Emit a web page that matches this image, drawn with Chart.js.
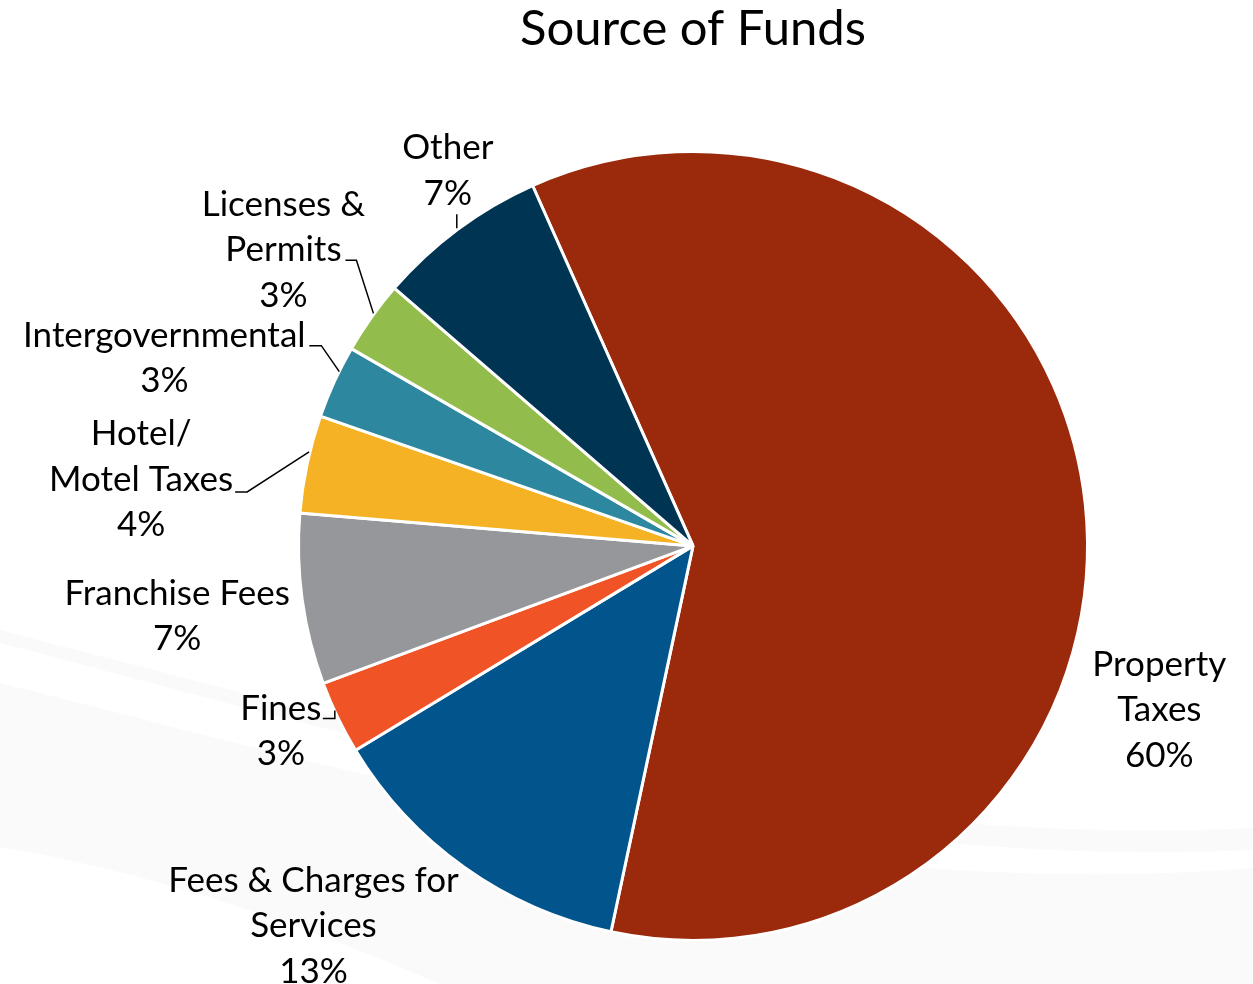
<!DOCTYPE html>
<html>
<head>
<meta charset="utf-8">
<title>Source of Funds</title>
<script src="https://cdn.jsdelivr.net/npm/chart.js@4"></script>
<style>
  html, body { margin: 0; padding: 0; background: #ffffff; }
  #fundsChart { display: block; }
</style>
</head>
<body>
<canvas id="fundsChart" width="1253" height="984"></canvas>
<script>
// Revenue sources, share of total (%)
const categories = [
  ['Property', 'Taxes'],
  ['Fees & Charges for', 'Services'],
  ['Fines'],
  ['Franchise Fees'],
  ['Hotel/', 'Motel Taxes'],
  ['Intergovernmental'],
  ['Licenses &', 'Permits'],
  ['Other']
];
const shares = [60, 13, 3, 7, 4, 3, 3, 7];
const sliceColors = ['#9a2a0b', '#01558c', '#ef5326', '#96979b', '#f5b224', '#2d889f', '#92bc4b', '#003453'];

// label placement, offsets from the outer midpoint of each slice
const labelLayout = [
  { dx: 74,   dy: 160 },
  { dx: -151, dy: 13 },
  { dx: -57,  dy: -9,   leader: [[-3, -7], [-3, 1], [-15, 1]] },
  { dx: -125, dy: -6 },
  { dx: -166, dy: -30,  leader: [[2, -12], [-60, 28], [-72, 28]] },
  { dx: -170, dy: -46,  leader: [[5, -10], [-13, -36], [-25, -36]] },
  { dx: -88,  dy: -113, leader: [[2, -4], [-15, -57], [-26, -57]] },
  { dx: -10,  dy: -81,  leader: [[-1, -1], [-1, -15]] }
];

const FONT = 'Lato, "Open Sans", sans-serif';

// faint swooshes in the page background
const backgroundWaves = {
  id: 'backgroundWaves',
  beforeDraw(chart) {
    const c = chart.ctx;
    c.save();
    c.fillStyle = '#fafafa';
    c.beginPath();
    c.moveTo(0, 630);
    c.bezierCurveTo(350, 720, 800, 850, 1253, 828);
    c.lineTo(1253, 850);
    c.bezierCurveTo(800, 872, 350, 734, 0, 643);
    c.closePath();
    c.fill();

    c.beginPath();
    c.moveTo(0, 683);
    c.bezierCurveTo(350, 770, 800, 905, 1253, 868);
    c.lineTo(1253, 984);
    c.lineTo(440, 984);
    c.quadraticCurveTo(200, 880, 0, 847);
    c.closePath();
    c.fill();
    c.restore();
  }
};

// category + percentage labels outside the pie, with leader lines
const sliceLabels = {
  id: 'sliceLabels',
  afterDatasetsDraw(chart) {
    const c = chart.ctx;
    const meta = chart.getDatasetMeta(0);
    c.save();
    c.font = '35px ' + FONT;
    c.fillStyle = '#000000';
    c.strokeStyle = '#000000';
    c.lineWidth = 1.5;
    c.textAlign = 'center';
    c.textBaseline = 'middle';
    meta.data.forEach((arc, i) => {
      const mid = (arc.startAngle + arc.endAngle) / 2;
      const ex = arc.x + Math.cos(mid) * arc.outerRadius;
      const ey = arc.y + Math.sin(mid) * arc.outerRadius;
      const lay = labelLayout[i];
      const lines = categories[i].concat([shares[i] + '%']);
      lines.forEach((txt, k) => {
        c.fillText(txt, ex + lay.dx, ey + lay.dy + k * 45.5);
      });
      if (lay.leader) {
        c.beginPath();
        lay.leader.forEach((p, k) => {
          if (k === 0) c.moveTo(ex + p[0], ey + p[1]);
          else c.lineTo(ex + p[0], ey + p[1]);
        });
        c.stroke();
      }
    });
    c.restore();
  }
};

new Chart(document.getElementById('fundsChart'), {
  type: 'pie',
  data: {
    labels: categories,
    datasets: [{
      data: shares,
      backgroundColor: sliceColors,
      borderColor: '#ffffff',
      borderWidth: 3,
      hoverOffset: 0
    }]
  },
  options: {
    responsive: false,
    animation: false,
    rotation: -24,
    layout: { padding: { left: 297, right: 164, top: 0, bottom: 42 } },
    plugins: {
      legend: { display: false },
      tooltip: { enabled: false },
      title: {
        display: true,
        text: 'Source of Funds',
        color: '#000000',
        font: { family: FONT, size: 49, weight: 'normal', lineHeight: 1.2 },
        padding: { top: 0, bottom: 91 }
      }
    }
  },
  plugins: [backgroundWaves, sliceLabels]
});
</script>
</body>
</html>
